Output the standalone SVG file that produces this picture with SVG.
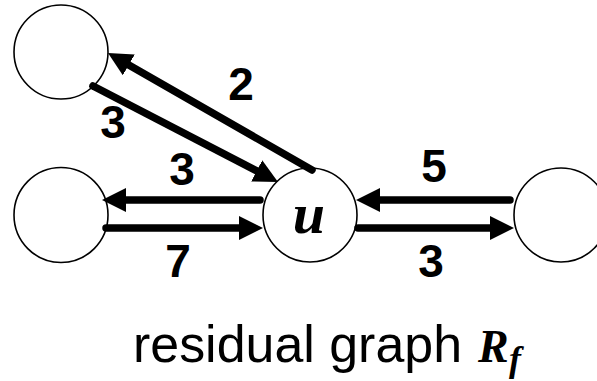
<svg xmlns="http://www.w3.org/2000/svg" width="597" height="381" viewBox="0 0 597 381">
<style>
.node{fill:#fff;stroke:#000;stroke-width:1.6}
.edge{stroke:#000;stroke-width:7.5;stroke-linecap:round;fill:none}
.lbl{font-family:"Liberation Sans",Arial,sans-serif;font-weight:bold;font-size:46px;fill:#000;text-anchor:middle}
.math{font-family:"Liberation Serif","Times New Roman",serif;font-weight:bold;font-style:italic;fill:#000}
.cap{font-family:"Liberation Sans",Arial,sans-serif;font-size:52px;fill:#000}
</style>
<defs>
<marker id="ah" markerUnits="userSpaceOnUse" markerWidth="24" markerHeight="24" viewBox="0 0 24 24" refX="0" refY="12" orient="auto">
<path d="M0,0 L24,12 L0,24 z" fill="#000"/>
</marker>
</defs>
<rect width="597" height="381" fill="#fff"/>
<g id="n-topleft"><ellipse class="node" cx="61" cy="52" rx="47" ry="47"/></g>
<g id="n-left"><ellipse class="node" cx="61" cy="215" rx="47" ry="47.5"/></g>
<g id="n-u"><ellipse class="node" cx="310" cy="215" rx="47" ry="47"/>
<text class="math" x="309" y="233" font-size="58" text-anchor="middle">u</text></g>
<g id="n-right"><ellipse class="node" cx="561" cy="215" rx="47" ry="47"/></g>
<g id="edges">
<line class="edge" x1="312" y1="170" x2="128.8" y2="64.9" marker-end="url(#ah)"/>
<line class="edge" x1="93" y1="86" x2="256.7" y2="170.9" marker-end="url(#ah)"/>
<line class="edge" x1="260" y1="200" x2="126" y2="200" marker-end="url(#ah)"/>
<line class="edge" x1="106" y1="228" x2="239" y2="228" marker-end="url(#ah)"/>
<line class="edge" x1="510" y1="200" x2="380" y2="200" marker-end="url(#ah)"/>
<line class="edge" x1="358" y1="228" x2="490" y2="228" marker-end="url(#ah)"/>
</g>
<g id="labels">
<text class="lbl" x="241" y="100">2</text>
<text class="lbl" x="113" y="138">3</text>
<text class="lbl" x="182" y="185">3</text>
<text class="lbl" x="178" y="277">7</text>
<text class="lbl" x="434" y="182">5</text>
<text class="lbl" x="431" y="277">3</text>
</g>
<g id="caption">
<text class="cap" x="133" y="362" textLength="329" lengthAdjust="spacingAndGlyphs">residual graph</text>
<text class="math" x="478" y="362" font-size="46">R</text>
<text class="math" x="509" y="371" font-size="36">f</text>
</g>
</svg>
